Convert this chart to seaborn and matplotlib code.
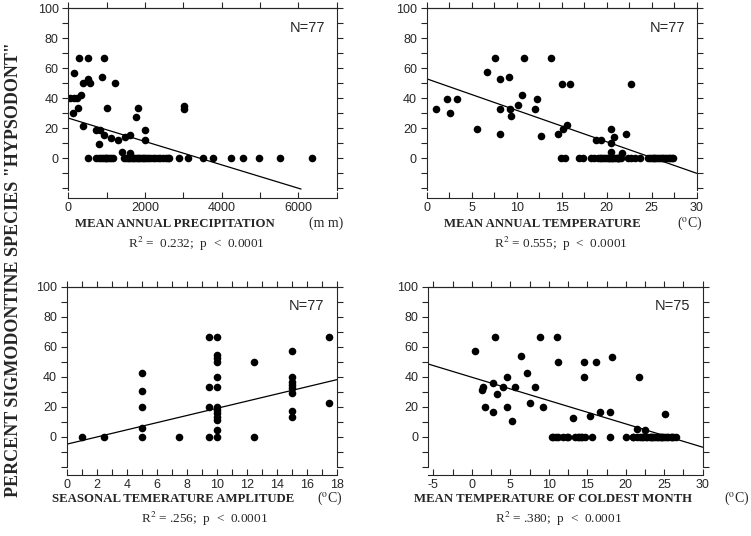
import matplotlib
matplotlib.use('Agg')
import matplotlib.pyplot as plt
import seaborn as sns
from matplotlib.ticker import FixedLocator, MultipleLocator, NullFormatter

# ---- data ----
# A: mean annual precipitation (mm) vs percent hypsodont
precip_x = [271, 506, 923, 149, 506, 391, 566, 879, 1210, 331, 50, 150, 220, 131, 262,
            1018, 1827, 1766, 3026, 3026, 375, 723, 835, 939, 1114, 809, 1304, 1479,
            1610, 2009, 2009, 1401, 1610,
            506, 723, 809, 897, 983, 1070, 1159, 1461, 1550, 1636, 1722, 1810, 1896,
            1982, 2071, 2202, 2332, 2463, 2549, 2635, 2896, 3115, 3522, 3767, 4237,
            4550, 4975, 5523, 6350,
            850, 950, 1020, 1110, 1500, 1590, 1680, 1760, 1850, 1940, 2020, 2120,
            2250, 2400, 2590]
precip_y = [66.7, 66.7, 66.7, 57.1, 53, 50, 50, 54, 50, 42, 40, 40, 40, 30, 33.3,
            33.3, 33.3, 27.5, 35, 33, 21.7, 19, 19, 15.7, 13.5, 9.7, 11.9, 14,
            15.7, 19, 11.9, 4.1, 3.5] + [0] * 44
precip_fit_x = [0, 6070]
precip_fit_y = [26.8, -20.5]

# B: mean annual temperature (C)
mat_x = [1.0, 2.26, 2.56, 3.4, 5.63, 6.7, 7.55, 8.1, 8.1, 8.1, 9.1, 9.2, 9.4, 10.1,
         10.6, 10.8, 12.0, 12.3, 12.7, 13.8, 14.6, 15.0, 15.9, 15.15, 15.6, 22.7,
         18.85, 19.4, 20.5, 20.5, 20.8, 20.5, 21.7, 22.1,
         14.96, 15.4, 16.9, 17.4, 18.2, 19.4, 19.6, 20.0, 20.3, 20.7, 21.1, 21.4,
         22.4, 22.7, 23.1, 23.7, 24.6, 25.0, 25.3, 25.7, 26.1, 26.5, 27.2, 27.4,
         19.8, 20.2, 20.5, 20.9, 21.2, 21.6, 18.6, 19.0, 24.8, 25.2, 25.5, 25.9,
         26.3, 26.7, 26.9, 27.0, 19.2, 20.6, 21.3]
mat_y = [33, 39.7, 30.5, 39.7, 19.7, 57.4, 66.7, 53, 33, 16.3, 53.9, 33, 27.9, 35.4,
         42, 66.7, 33, 39.7, 14.6, 66.7, 16.3, 49.7, 49.7, 19.7, 21.9, 49.7,
         11.9, 11.9, 19.7, 10, 13.9, 4.1, 3.5, 16.3] + [0] * 43
mat_fit_x = [0, 30]
mat_fit_y = [53, -10]

# C: seasonal temperature amplitude (C)
amp_x = [1, 2.5, 5, 5, 5, 5, 5, 7.5, 9.5, 9.5, 9.5, 9.5,
         10, 10, 10, 10, 10, 10, 10, 10, 10, 10, 10, 10, 10,
         12.5, 12.5, 15, 15, 15, 15, 15, 15, 15, 15, 17.5, 17.5]
amp_y = [0, 0, 0, 5.6, 20, 30.7, 42.7, 0, 0, 20, 33.3, 66.7,
         0, 4.4, 11.1, 13.3, 15.6, 17.8, 20, 33.3, 40, 50, 52.2, 54.5, 66.7,
         0, 50, 12.9, 17.3, 28.9, 32.2, 34.4, 36.7, 40, 57.3, 22.7, 66.7]
amp_fit_x = [0, 18]
amp_fit_y = [-5, 38]

# D: mean temperature of coldest month (C)
cold_x = [0.42, 3.0, 1.3, 1.5, 2.8, 3.3, 1.7, 2.8, 4.0, 4.6, 4.6, 5.26, 5.6, 6.4,
          7.2, 7.56, 8.2, 8.86, 9.3, 11.0, 11.2, 13.2, 14.6, 14.6, 15.3, 16.1, 16.6,
          18.0, 18.2, 21.7, 21.5, 22.5, 25.1,
          10.4, 10.9, 11.9, 12.5, 13.4, 13.8, 14.3, 14.7, 15.6, 18.0, 19.97, 20.97,
          21.5, 22.06, 22.6, 23.1, 23.6, 24.0, 24.4, 24.9, 25.3, 25.96, 26.5,
          21.0, 21.8, 22.3, 22.8, 23.3, 23.8, 24.2, 24.6, 25.1, 25.5, 25.9, 26.1,
          13.9, 12.4, 11.2, 10.6, 24.7, 23.4, 14.2]
cold_y = [57.3, 66.7, 31, 33.3, 35.6, 28.4, 20, 16.7, 33.3, 40, 20, 10.7, 33.3, 53.8,
          42.2, 22.2, 33.3, 66.7, 20, 66.7, 50, 12.7, 50, 40, 14, 50, 16.7,
          16.7, 52.9, 40, 4.9, 4.4, 15.1] + [0] * 42
cold_fit_x = [-5.7, 30]
cold_fit_y = [48.5, -7]

y_ticks = [0, 20, 40, 60, 80, 100]

W, H = 751, 536
plt.rcParams['figure.dpi'] = 100
sns.set_style('ticks')
plt.rcParams['font.family'] = ['Liberation Sans', 'DejaVu Sans']
plt.rcParams['axes.unicode_minus'] = False
plt.rcParams['mathtext.fontset'] = 'stix'

fig = plt.figure(figsize=(W / 100, H / 100))


def px_rect(left, top, right, bottom):
    return [left / W, 1 - bottom / H, (right - left) / W, (bottom - top) / H]


def panel(rect, x, y, fx, fy, xlim, ylim, xmaj, xstep, ntext):
    ax = fig.add_axes(rect)
    sns.scatterplot(x=x, y=y, ax=ax, color='black', s=30, linewidth=0, legend=False)
    ax.plot(fx, fy, color='black', lw=0.9)
    ax.set_xlim(xlim)
    ax.set_ylim(ylim)
    ax.xaxis.set_major_locator(FixedLocator(xmaj))
    ax.xaxis.set_minor_locator(MultipleLocator(xstep))
    ax.yaxis.set_major_locator(FixedLocator(y_ticks))
    ax.yaxis.set_minor_locator(MultipleLocator(10))
    for s in ax.spines.values():
        s.set_linewidth(0.8)
    ax.spines['bottom'].set_position(('outward', 6))
    ax.tick_params(axis='y', which='both', direction='out', length=4, width=0.8,
                   left=True, right=True, labelsize=9, pad=3)
    ax.tick_params(axis='x', which='both', direction='in', length=4, width=0.8,
                   top=False, bottom=True, labelsize=9, pad=2.5)
    sec = ax.secondary_xaxis('top')
    sec.xaxis.set_major_locator(FixedLocator(xmaj))
    sec.xaxis.set_minor_locator(MultipleLocator(xstep))
    sec.xaxis.set_major_formatter(NullFormatter())
    sec.tick_params(which='both', direction='out', length=4, width=0.8)
    sec.spines['top'].set_linewidth(0.8)
    ax.text(0.89, 0.89, ntext, transform=ax.transAxes, ha='center', va='center',
            fontsize=10.5)
    return ax


panel(px_rect(68.3, 8.3, 336.7, 189.8), precip_x, precip_y, precip_fit_x, precip_fit_y,
      (0, 7000), (-21, 100), [0, 2000, 4000, 6000], 1000, 'N=77')
panel(px_rect(426.7, 8.3, 696.7, 189.8), mat_x, mat_y, mat_fit_x, mat_fit_y,
      (0, 30), (-21, 100), [0, 5, 10, 15, 20, 25, 30], 2.5, 'N=77')
panel(px_rect(66.7, 286.7, 336.7, 466.7), amp_x, amp_y, amp_fit_x, amp_fit_y,
      (0, 18), (-20, 100), list(range(0, 19, 2)), 1, 'N=77')
panel(px_rect(428, 286.7, 702.7, 466.7), cold_x, cold_y, cold_fit_x, cold_fit_y,
      (-5.7, 30), (-20, 100), [-5, 0, 5, 10, 15, 20, 25, 30], 2.5, 'N=75')

serif = ['Liberation Serif', 'DejaVu Serif']


def ftext(x, y, s, **kw):
    fig.text(x / W, 1 - y / H, s, family=serif, **kw)


# axis titles, units and fit statistics under each panel
lab = dict(fontsize=9.2, fontweight='bold', ha='left', va='center')
ftext(75, 224, 'MEAN ANNUAL PRECIPITATION', **lab)
ftext(444, 224, 'MEAN ANNUAL TEMPERATURE', **lab)
ftext(52, 499, 'SEASONAL TEMERATURE AMPLITUDE', **lab)
ftext(414, 499, 'MEAN TEMPERATURE OF COLDEST MONTH', **lab)

unit = dict(fontsize=10, ha='right', va='center')
ftext(343, 223, '(m m)', **unit)
ftext(703, 223, '($^{\\rm o}$C)', **unit)
ftext(343, 498, '($^{\\rm o}$C)', **unit)
ftext(750, 498, '($^{\\rm o}$C)', **unit)

r2 = dict(fontsize=9.5, ha='center', va='center')
ftext(196, 244, 'R$^2$ =  0.232;  p  <  0.0001', **r2)
ftext(561, 244, 'R$^2$ = 0.555;  p  <  0.0001', **r2)
ftext(204, 519, 'R$^2$ = .256;  p  <  0.0001', **r2)
ftext(558, 519, 'R$^2$ = .380;  p  <  0.0001', **r2)

ftext(14, 270, 'PERCENT SIGMODONTINE SPECIES "HYPSODONT"', fontsize=13,
      fontweight='bold', rotation=90, ha='center', va='center')

fig.savefig('out.png', dpi=100)
